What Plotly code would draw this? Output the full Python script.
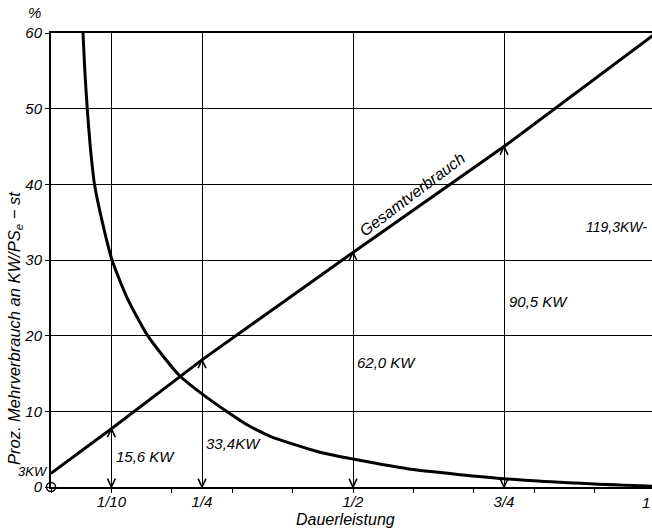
import plotly.graph_objects as go

# --- data ---
line_x = [0.0, 0.1, 0.25, 0.5, 0.75, 1.0]
line_y = [1.8, 7.7, 16.8, 31.0, 45.0, 59.9]

curve_x = [0.053, 0.056, 0.060, 0.065, 0.072, 0.085, 0.101, 0.126, 0.160,
           0.213, 0.25, 0.296, 0.321, 0.363, 0.445, 0.50, 0.60, 0.75, 0.90, 1.0]
curve_y = [60.0, 55.0, 50.0, 45.0, 40.0, 35.0, 30.0, 25.0, 20.0,
           14.7, 12.3, 9.7, 8.4, 6.7, 4.6, 3.7, 2.3, 1.1, 0.4, 0.1]

arrow_x = [0.1, 0.25, 0.5, 0.75]
arrow_up_tip = [7.7, 16.8, 31.0, 45.0]

kw_labels = ["15,6 KW", "33,4KW", "62,0 KW", "90,5 KW", "119,3KW-"]
kw_x = [0.105, 0.253, 0.503, 0.755, 0.882]
kw_y = [4.0, 5.8, 16.4, 24.5, 34.4]

x_ticks = [0.1, 0.25, 0.5, 0.75, 1.0]
x_ticktext = ["1/10", "1/4", "1/2", "3/4", "1"]
y_ticks = [0, 10, 20, 30, 40, 50, 60]

FONT = "Liberation Sans, Arial, sans-serif"


def f(size):
    return dict(family=FONT, size=size, color="black", style="italic")


fig = go.Figure()
fig.add_trace(go.Scatter(x=curve_x, y=curve_y, mode="lines",
                         line=dict(color="black", width=3, shape="spline", smoothing=0.6),
                         showlegend=False, hoverinfo="skip"))
fig.add_trace(go.Scatter(x=line_x, y=line_y, mode="lines",
                         line=dict(color="black", width=3),
                         showlegend=False, hoverinfo="skip"))
fig.add_trace(go.Scatter(x=[0], y=[0], mode="markers",
                         marker=dict(symbol="circle-open", size=9,
                                     color="black", line=dict(width=1.5)),
                         cliponaxis=False, showlegend=False, hoverinfo="skip"))

# arrowheads (small chevrons) drawn as shapes in data coordinates
DX = 0.0065   # half width of a head, in x units (about 4 px)
DY = 1.1      # head length, in y units (about 8 px)
for xv, tip in zip(arrow_x, arrow_up_tip):
    up = f"M {xv - DX},{tip - DY} L {xv},{tip} L {xv + DX},{tip - DY}"
    down = f"M {xv - DX},{DY} L {xv},0 L {xv + DX},{DY}"
    for p in (up, down):
        fig.add_shape(type="path", path=p, xref="x", yref="y",
                      line=dict(color="black", width=1.6))

annotations = []
for t, xv, yv in zip(kw_labels, kw_x, kw_y):
    annotations.append(dict(x=xv, y=yv, xref="x", yref="y", text=t,
                            showarrow=False, xanchor="left", yanchor="middle",
                            font=f(14 if t.startswith("119") else 15)))

annotations.append(dict(x=0.598, y=38.6, xref="x", yref="y", text="Gesamtverbrauch",
                        showarrow=False, textangle=-37, font=f(16)))
annotations.append(dict(x=-0.002, y=0.034, xref="paper", yref="paper", text="3KW",
                        showarrow=False, xanchor="right", yanchor="middle", font=f(13)))
annotations.append(dict(x=-0.027, y=1.046, xref="paper", yref="paper", text="%",
                        showarrow=False, xanchor="center", yanchor="middle", font=f(15)))
annotations.append(dict(x=-0.06, y=0.35, xref="paper", yref="paper",
                        text="Proz. Mehrverbrauch an KW/PS<sub>e</sub> − st",
                        showarrow=False, textangle=-90, xanchor="center", yanchor="middle",
                        font=f(16.5)))
annotations.append(dict(x=0.49, y=-0.072, xref="paper", yref="paper",
                        text="Dauerleistung", showarrow=False,
                        xanchor="center", yanchor="middle", font=f(16)))
annotations.append(dict(x=1.0, y=-0.035, xref="paper", yref="paper",
                        text="1", showarrow=False,
                        xanchor="right", yanchor="middle", font=f(15)))

fig.update_layout(
    width=652, height=530,
    margin=dict(l=51, r=0, t=33, b=43, autoexpand=False),
    paper_bgcolor="white", plot_bgcolor="white",
    annotations=annotations,
    xaxis=dict(range=[0, 0.995], tickvals=x_ticks, ticktext=x_ticktext,
               showgrid=True, gridcolor="black", gridwidth=1,
               showline=True, linecolor="black", linewidth=2, mirror=True,
               ticks="", zeroline=False, automargin=False,
               minor=dict(dtick=0.1, tick0=0, ticks="outside", ticklen=4,
                          tickcolor="black", tickwidth=1, showgrid=False),
               tickfont=f(15)),
    yaxis=dict(range=[0, 60], tickvals=y_ticks,
               showgrid=True, gridcolor="black", gridwidth=1,
               showline=True, linecolor="black", linewidth=2, mirror=False,
               ticks="outside", ticklen=4, tickcolor="black", zeroline=False,
               automargin=False, tickfont=f(15)),
)

fig.write_html("out.html", config={"displayModeBar": False},
               post_script="document.body.style.margin='0px';")
